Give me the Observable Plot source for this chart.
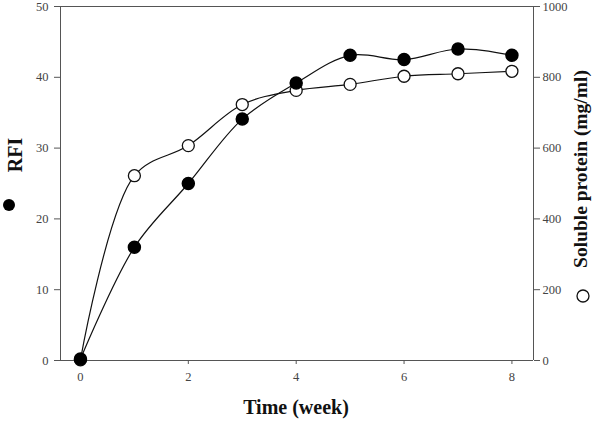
<!DOCTYPE html>
<html><head><meta charset="utf-8">
<script src="https://cdn.jsdelivr.net/npm/d3@7"></script>
<script src="https://cdn.jsdelivr.net/npm/@observablehq/plot@0.6"></script>
<style>body{margin:0;background:#fff}</style>
</head><body><div id="chart"></div>
<script>
const weeks = [0, 1, 2, 3, 4, 5, 6, 7, 8];
const rfi = [0.2, 16.0, 25.0, 34.1, 39.2, 43.1, 42.5, 44.0, 43.1];
const protein = [2, 522, 607, 723, 763, 780, 803, 810, 817];
const xTicks = [0, 2, 4, 6, 8];
const leftTicks = [0, 10, 20, 30, 40, 50];
const rightTicks = [0, 200, 400, 600, 800, 1000];
const ratio = 1000 / 50;

const rfiData = weeks.map((w, i) => ({w, v: rfi[i]}));
const protData = weeks.map((w, i) => ({w, v: protein[i] / ratio}));

const font = "'Liberation Serif', 'Times New Roman', serif";
const axisColor = "#555";

const chart = Plot.plot({
  width: 600, height: 421,
  marginLeft: 60, marginRight: 67, marginTop: 6, marginBottom: 61,
  style: {fontFamily: font, fontSize: "12.5px", color: "#444", background: "#fff"},
  x: {domain: [-0.37, 8.4]},
  y: {domain: [0, 50]},
  marks: [
    Plot.ruleY([50], {stroke: axisColor}),
    Plot.ruleY([0], {stroke: axisColor}),
    Plot.ruleX([-0.37], {stroke: axisColor}),
    Plot.ruleX([8.4], {stroke: axisColor}),
    Plot.axisX({ticks: xTicks, tickSize: 4, tickPadding: 8, label: null, stroke: axisColor, fill: "#444"}),
    Plot.axisY({anchor: "left", ticks: leftTicks, tickSize: 6, tickPadding: 6, label: null, stroke: axisColor, fill: "#444"}),
    Plot.axisY({anchor: "right", ticks: leftTicks, tickSize: 6, tickPadding: 3, label: null, stroke: axisColor, fill: "#444",
      tickFormat: d => String(d * ratio)}),
    Plot.line(protData, {x: "w", y: "v", curve: "catmull-rom", stroke: "#111", strokeWidth: 1.2}),
    Plot.line(rfiData, {x: "w", y: "v", curve: "catmull-rom", stroke: "#111", strokeWidth: 1.2}),
    Plot.dot(protData, {x: "w", y: "v", r: 6, fill: "#fff", stroke: "#111", strokeWidth: 1.3}),
    Plot.dot(rfiData, {x: "w", y: "v", r: 6, fill: "#000", stroke: "#000"})
  ]
});
document.getElementById("chart").appendChild(chart);

const svg = d3.select(chart);
svg.append("text").text("Time (week)")
  .attr("x", 296).attr("y", 414).attr("text-anchor", "middle")
  .attr("font-family", font).attr("font-weight", "bold").attr("font-size", 20).attr("fill", "#111");
svg.append("text").text("RFI")
  .attr("transform", "translate(22,155) rotate(-90)").attr("text-anchor", "middle")
  .attr("font-family", font).attr("font-weight", "bold").attr("font-size", 20).attr("fill", "#111");
svg.append("circle").attr("cx", 9).attr("cy", 205).attr("r", 6).attr("fill", "#000");
svg.append("text").text("Soluble protein (mg/ml)")
  .attr("transform", "translate(587,169) rotate(-90)").attr("text-anchor", "middle")
  .attr("font-family", font).attr("font-weight", "bold").attr("font-size", 19.5).attr("fill", "#111");
svg.append("circle").attr("cx", 583).attr("cy", 296).attr("r", 6).attr("fill", "#fff").attr("stroke", "#111").attr("stroke-width", 1.3);
</script>
</body></html>
